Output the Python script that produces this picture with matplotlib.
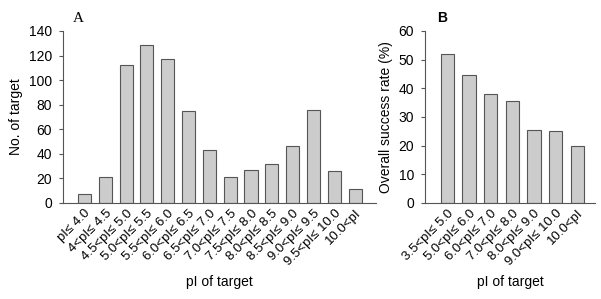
import matplotlib
matplotlib.use("Agg")
import matplotlib.pyplot as plt

# panel A: number of targets per pI bin
labelsA = ["pI≤ 4.0", "4<pI≤ 4.5", "4.5<pI≤ 5.0", "5.0<pI≤ 5.5", "5.5<pI≤ 6.0",
           "6.0<pI≤ 6.5", "6.5<pI≤ 7.0", "7.0<pI≤ 7.5", "7.5<pI≤ 8.0", "8.0<pI≤ 8.5",
           "8.5<pI≤ 9.0", "9.0<pI≤ 9.5", "9.5<pI≤ 10.0", "10.0<pI"]
countsA = [7, 21, 112, 129, 117, 75, 43, 21, 27, 32, 46, 76, 26, 11]

# panel B: overall success rate per pI bin
labelsB = ["3.5<pI≤ 5.0", "5.0<pI≤ 6.0", "6.0<pI≤ 7.0", "7.0<pI≤ 8.0",
           "8.0<pI≤ 9.0", "9.0<pI≤ 10.0", "10.0<pI"]
ratesB = [52, 44.5, 38, 35.5, 25.5, 25, 20]

plt.rcParams['font.family'] = ['Liberation Sans', 'DejaVu Sans']
plt.rcParams['font.size'] = 10

W, H = 601, 299
fig = plt.figure(figsize=(W / 100, H / 100), dpi=100)

def px_axes(x0, y0, x1, y1):
    return fig.add_axes([x0 / W, 1 - y1 / H, (x1 - x0) / W, (y1 - y0) / H])

def style(ax):
    for s in ['top', 'right']:
        ax.spines[s].set_visible(False)
    for s in ['left', 'bottom']:
        ax.spines[s].set_color('#555555')
        ax.spines[s].set_linewidth(0.8)
    ax.tick_params(axis='y', length=3, width=0.8, color='#555555', pad=5, labelsize=10)
    ax.tick_params(axis='x', length=0, pad=3, labelsize=9.5)

axA = px_axes(63, 31, 376, 203)
axA.bar(range(len(countsA)), countsA, width=0.63, color='#cccccc',
        edgecolor='#555555', linewidth=0.8)
axA.set_xlim(-1.03, len(countsA))
axA.set_ylim(0, 140)
axA.set_yticks(range(0, 141, 20))
axA.set_xticks(range(len(countsA)))
axA.set_xticklabels(labelsA, rotation=45, ha='right', rotation_mode='anchor')
axA.set_ylabel('No. of target', fontsize=10, labelpad=4)
axA.set_xlabel('pI of target', fontsize=10, labelpad=5)
style(axA)
fig.text(73 / W, 1 - 18 / H, 'A', family='Liberation Serif', fontsize=11, va='center')

axB = px_axes(425, 31, 595, 203)
axB.bar(range(len(ratesB)), ratesB, width=0.61, color='#cccccc',
        edgecolor='#555555', linewidth=0.8)
axB.set_xlim(-1.03, len(ratesB) - 0.18)
axB.set_ylim(0, 60)
axB.set_yticks(range(0, 61, 10))
axB.set_xticks(range(len(ratesB)))
axB.set_xticklabels(labelsB, rotation=45, ha='right', rotation_mode='anchor')
axB.set_ylabel('Overall success rate (%)', fontsize=10, labelpad=4)
axB.set_xlabel('pI of target', fontsize=10, labelpad=5)
style(axB)
fig.text(437 / W, 1 - 18 / H, 'B', fontsize=10, fontweight='bold', va='center')

fig.savefig('out.png', dpi=100)
